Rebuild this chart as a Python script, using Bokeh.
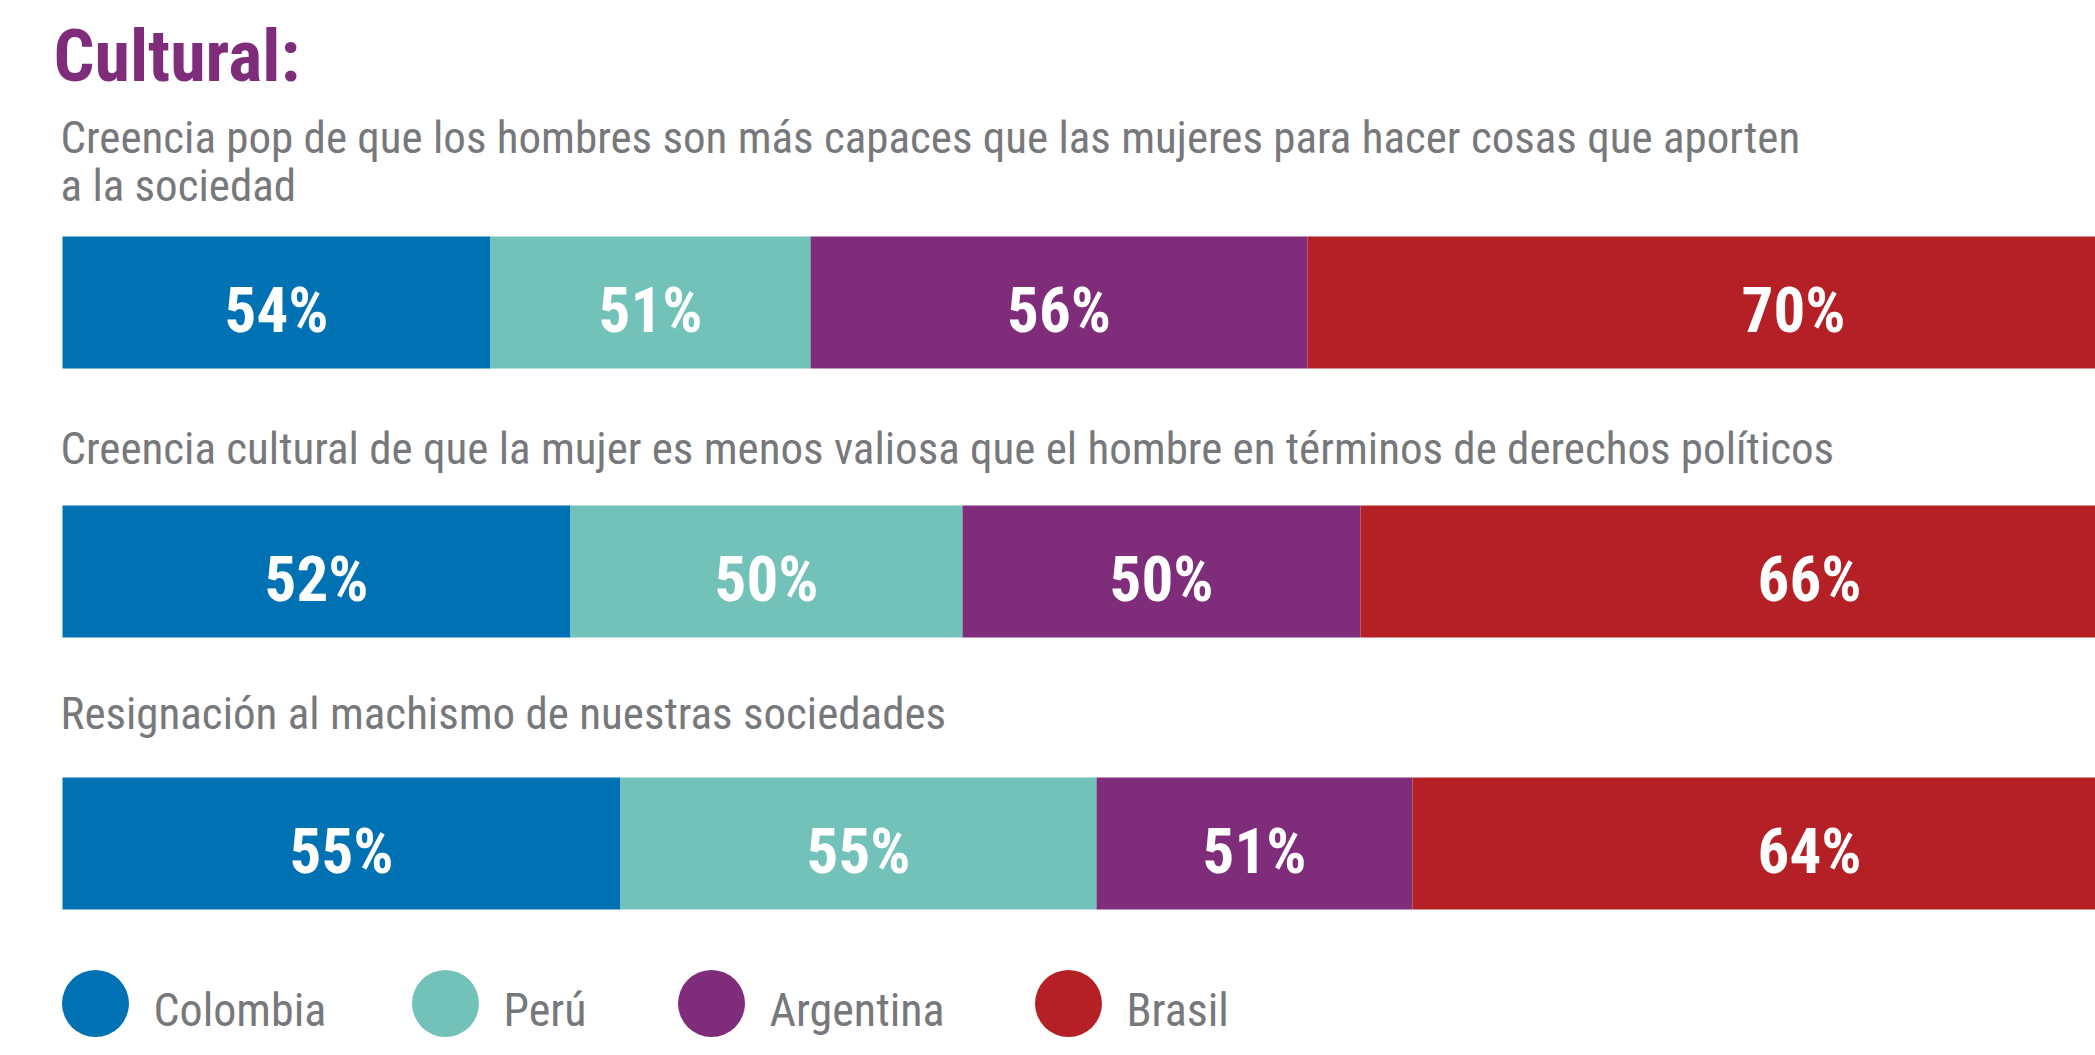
from bokeh.plotting import figure
from bokeh.models import Range1d, ColumnDataSource
from bokeh.core.properties import value
from bokeh.embed import file_html
from bokeh.resources import INLINE

# ---------------- data ----------------
title = "Cultural:"
questions = [
    "Creencia pop de que los hombres son más capaces que las mujeres para hacer cosas que aporten\na la sociedad",
    "Creencia cultural de que la mujer es menos valiosa que el hombre en términos de derechos políticos",
    "Resignación al machismo de nuestras sociedades",
]
countries = ["Colombia", "Perú", "Argentina", "Brasil"]
colombia = [54, 52, 55]
peru = [51, 50, 55]
argentina = [56, 50, 51]
brasil = [70, 66, 64]
# visual segment lengths as drawn in the original (not proportional to the values)
len_colombia = [428, 508, 558]
len_peru = [320, 392, 476]
len_argentina = [497, 398, 316]
len_brasil = [972, 898, 794]

colors = ["#0071B3", "#72C2BA", "#7F2C7A", "#B52027"]
GRAY = "#77787B"
FONT = value("Roboto Condensed")

# ---------------- layout ----------------
W, H = 2095, 1047
p = figure(width=W, height=H, output_backend="svg", toolbar_location=None,
           x_range=Range1d(0, W), y_range=Range1d(H, 0),
           min_border=0, outline_line_color=None)
p.axis.visible = False
p.grid.visible = False
p.background_fill_color = "white"
p.border_fill_color = "white"


def base(y, size):
    # compensate for the baseline offset of the SVG text rendering
    return y - 0.33 * size


X0 = 62
bar_tops = [236, 505, 777]
bar_h = 132
q_baselines = [152, 463, 728]

TS, QS, LS, GS = 72, 45, 63, 46

# title
p.text(x=[53], y=[base(80, TS)], text=[title], text_font=FONT, text_font_style="bold",
       text_font_size=f"{TS}px", text_color="#7F2C7A", text_baseline="alphabetic")

# questions
for qi, q in enumerate(questions):
    for li, line in enumerate(q.split("\n")):
        p.text(x=[60], y=[base(q_baselines[qi] + 48 * li, QS)], text=[line], text_font=FONT,
               text_font_size=f"{QS}px", text_color=GRAY, text_baseline="alphabetic")

values = [colombia, peru, argentina, brasil]
lengths = [len_colombia, len_peru, len_argentina, len_brasil]

for r in range(3):
    left = X0
    for c in range(4):
        ln = lengths[c][r]
        right = left + ln
        yc = bar_tops[r] + bar_h / 2
        p.hbar(y=[yc], left=[left], right=[right], height=bar_h,
               fill_color=colors[c], line_color=None)
        p.text(x=[(left + right) / 2], y=[base(bar_tops[r] + 95, LS)], text=[f"{values[c][r]}%"],
               text_font=FONT, text_font_style="bold", text_font_size=f"{LS}px",
               text_color="white", text_align="center", text_baseline="alphabetic")
        left = right

# legend
leg_x = [95, 445, 711, 1068]
src = ColumnDataSource(dict(x=leg_x, y=[1003] * 4, c=colors,
                            tx=[x + 58 for x in leg_x], ty=[base(1025, GS)] * 4, t=countries))
p.scatter(x="x", y="y", size=67, marker="circle", fill_color="c", line_color=None, source=src)
p.text(x="tx", y="ty", text="t", source=src, text_font=FONT, text_font_size=f"{GS}px",
       text_color=GRAY, text_baseline="alphabetic")

open("out.html", "w").write(file_html(p, INLINE))
